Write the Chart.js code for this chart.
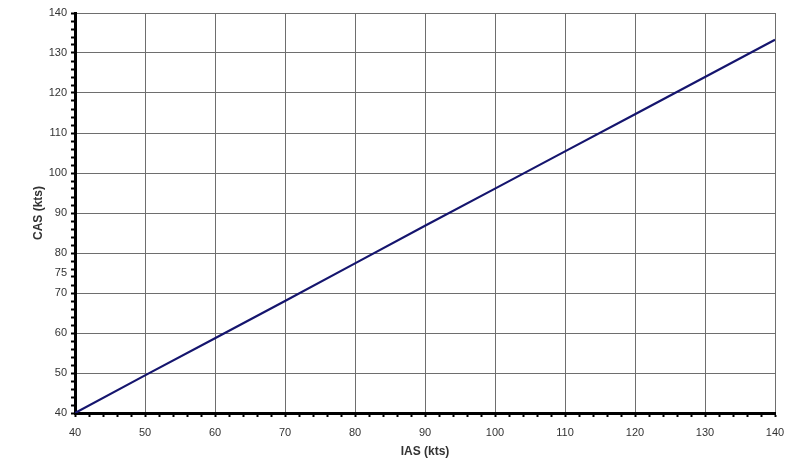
<!DOCTYPE html>
<html>
<head>
<meta charset="utf-8">
<script src="https://cdn.jsdelivr.net/npm/chart.js@4/dist/chart.umd.min.js"></script>
<style>
  html, body { margin: 0; padding: 0; background: #fff; }
  canvas { display: block; }
</style>
</head>
<body>
<canvas id="c" width="800" height="465"></canvas>
<script>
// ---- Data ----
const iasKts = [40, 50, 60, 70, 80, 90, 100, 110, 120, 130, 140];
const casKts = [40, 49.4, 58.7, 68.0, 77.4, 86.8, 96.1, 105.4, 114.7, 124.0, 133.3];

const xMajorTicks = [40, 50, 60, 70, 80, 90, 100, 110, 120, 130, 140];
const yMajorTicks = [40, 50, 60, 70, 80, 90, 100, 110, 120, 130, 140];
const yExtraLabels = [75];
const minorStep = 2;

function buildTicks(majors, extras) {
  const vals = new Set(majors.concat(extras));
  for (let v = majors[0]; v <= majors[majors.length - 1]; v += minorStep) vals.add(v);
  return Array.from(vals).sort((a, b) => a - b).map(v => ({ value: v }));
}

const tickFont = { family: 'Liberation Sans, Arial, sans-serif', size: 11 };
const titleFont = { family: 'Liberation Sans, Arial, sans-serif', size: 12, weight: 'bold' };

new Chart(document.getElementById('c'), {
  type: 'line',
  data: {
    datasets: [{
      data: iasKts.map((x, i) => ({ x: x, y: casKts[i] })),
      borderColor: '#15156e',
      borderWidth: 2.2,
      pointRadius: 0,
      tension: 0,
      fill: false
    }]
  },
  options: {
    responsive: false,
    devicePixelRatio: 1,
    animation: false,
    layout: { padding: { top: 13, right: 25, left: 0, bottom: 0 } },
    plugins: { legend: { display: false }, tooltip: { enabled: false } },
    scales: {
      x: {
        type: 'linear',
        min: 40, max: 140,
        afterBuildTicks: s => { s.ticks = buildTicks(xMajorTicks, []); },
        afterFit: s => { s.height = 52; },
        border: { color: '#000', width: 3 },
        grid: {
          color: c => (xMajorTicks.includes(c.tick.value) ? '#6e6e6e' : 'rgba(0,0,0,0)'),
          tickColor: '#000',
          tickLength: 4,
          tickWidth: 2,
          lineWidth: 1
        },
        ticks: {
          autoSkip: false, maxRotation: 0, padding: 9,
          color: '#333', font: tickFont,
          callback: v => (xMajorTicks.includes(v) ? String(v) : '')
        },
        title: { display: true, text: 'IAS (kts)', color: '#333', font: titleFont, padding: { top: 0, bottom: 6 } }
      },
      y: {
        type: 'linear',
        min: 40, max: 140,
        afterBuildTicks: s => { s.ticks = buildTicks(yMajorTicks, yExtraLabels); },
        afterFit: s => { s.width = 75; },
        border: { color: '#000', width: 3 },
        grid: {
          color: c => (yMajorTicks.includes(c.tick.value) ? '#6e6e6e' : 'rgba(0,0,0,0)'),
          tickColor: c => (yExtraLabels.includes(c.tick.value) ? 'rgba(0,0,0,0)' : '#000'),
          tickLength: 4,
          tickWidth: 2,
          lineWidth: 1
        },
        ticks: {
          autoSkip: false, padding: 4,
          color: '#333', font: tickFont,
          callback: v => ((yMajorTicks.includes(v) || yExtraLabels.includes(v)) ? String(v) : '')
        },
        title: { display: true, text: 'CAS (kts)', color: '#333', font: titleFont, padding: { top: 31, bottom: 0 } }
      }
    }
  }
});
</script>
</body>
</html>
